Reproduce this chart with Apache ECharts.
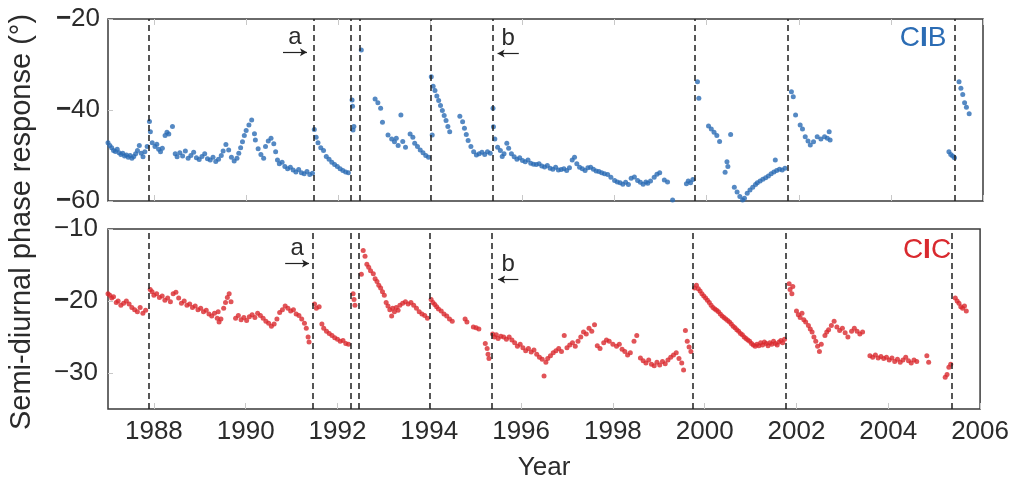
<!DOCTYPE html>
<html><head><meta charset="utf-8">
<script src="https://cdn.jsdelivr.net/npm/echarts@6/dist/echarts.min.js"></script>
<style>html,body{margin:0;padding:0;background:#fff}#c{width:1012px;height:482px}</style>
</head><body><div id="c"></div>
<script>
// ---- data ----
const xTickYears = [1988,1990,1992,1994,1996,1998,2000,2002,2004,2006];
const cibTicks = [-60,-40,-20];
const cicTicks = [-30,-20,-10];
const eventYears = [1987.89,1991.47,1992.28,1992.47,1994.01,1995.35,1999.74,2001.77,2005.38];

const cibPoints = [
[1987.00,-47.2],[1987.04,-47.8],[1987.08,-48.3],[1987.12,-48.9],[1987.16,-49.1],[1987.20,-48.6],[1987.24,-49.4],[1987.28,-49.8],[1987.32,-49.5],[1987.36,-50.1],[1987.40,-49.9],[1987.44,-50.4],[1987.48,-50.0],[1987.52,-50.6],[1987.56,-50.2],[1987.60,-49.6],[1987.64,-48.9],[1987.68,-47.8],[1987.72,-49.5],[1987.76,-50.3],[1987.80,-49.2],[1987.85,-48.0],
[1987.90,-42.5],[1987.92,-44.8],[1987.96,-47.2],[1988.02,-48.0],[1988.06,-47.5],[1988.10,-48.6],[1988.14,-49.2],[1988.18,-48.4],[1988.24,-45.6],[1988.28,-44.9],[1988.32,-45.3],[1988.40,-43.6],[1988.46,-49.6],[1988.50,-50.3],[1988.56,-49.4],[1988.62,-50.1],[1988.68,-49.0],[1988.74,-50.6],[1988.80,-50.0],[1988.86,-49.3],[1988.92,-50.5],[1988.98,-50.9],[1989.04,-50.2],[1989.10,-49.6],[1989.16,-50.7],[1989.22,-51.0],[1989.28,-50.4],[1989.34,-51.3],[1989.40,-50.8],[1989.46,-50.0],
[1989.50,-49.0],[1989.56,-47.6],[1989.62,-48.8],[1989.68,-50.4],[1989.74,-51.2],[1989.80,-50.6],[1989.84,-49.5],[1989.88,-48.3],[1989.92,-47.0],[1989.96,-45.6],[1990.00,-44.5],[1990.06,-43.3],[1990.12,-42.2],[1990.18,-45.2],[1990.20,-46.6],[1990.26,-48.5],[1990.32,-49.8],[1990.38,-50.6],[1990.42,-48.0],[1990.48,-46.8],[1990.54,-46.2],[1990.60,-47.4],[1990.64,-49.2],
[1990.68,-51.0],[1990.72,-51.8],[1990.78,-51.5],[1990.84,-52.4],[1990.90,-52.9],[1990.96,-52.6],[1991.02,-53.2],[1991.08,-53.6],[1991.14,-53.1],[1991.20,-53.8],[1991.26,-54.0],[1991.32,-53.5],[1991.38,-54.2],[1991.44,-53.9],
[1991.48,-44.3],[1991.52,-46.0],[1991.56,-47.2],[1991.62,-48.3],[1991.68,-48.9],[1991.74,-50.2],[1991.80,-50.8],[1991.86,-51.5],[1991.92,-52.0],[1991.98,-52.4],[1992.04,-52.9],[1992.10,-53.3],[1992.16,-53.6],[1992.22,-53.8],
[1992.30,-37.8],[1992.31,-39.2],[1992.32,-44.4],[1992.34,-43.6],
[1992.50,-26.8],
[1992.80,-37.6],[1992.86,-38.4],[1992.92,-39.6],[1992.96,-42.7],[1993.08,-45.5],[1993.16,-46.4],[1993.22,-47.0],[1993.26,-46.2],[1993.30,-47.8],[1993.36,-41.1],[1993.40,-46.9],[1993.46,-48.2],[1993.56,-45.3],[1993.62,-46.0],[1993.66,-47.3],[1993.72,-48.0],[1993.78,-48.8],[1993.84,-49.4],[1993.90,-50.0],[1993.96,-50.4],
[1994.02,-32.7],[1994.04,-45.5],[1994.06,-34.8],[1994.10,-35.7],[1994.14,-36.9],[1994.18,-37.9],[1994.22,-39.0],[1994.26,-40.1],[1994.30,-41.2],[1994.34,-42.3],[1994.38,-43.6],[1994.42,-44.8],
[1994.64,-41.4],[1994.70,-42.6],[1994.74,-44.0],[1994.78,-45.4],[1994.82,-46.7],[1994.88,-48.0],[1994.94,-49.2],[1995.00,-49.9],[1995.06,-49.6],[1995.12,-49.3],[1995.18,-49.8],[1995.24,-49.2],[1995.30,-49.5],
[1995.36,-39.6],[1995.37,-43.7],[1995.40,-46.4],[1995.46,-48.2],[1995.52,-48.9],[1995.56,-50.2],[1995.60,-49.6],[1995.66,-47.3],[1995.70,-48.4],[1995.76,-49.6],[1995.82,-50.3],[1995.88,-50.8],[1995.94,-50.5],[1996.00,-51.1],[1996.06,-51.4],[1996.12,-51.0],[1996.18,-51.7],[1996.24,-51.9],[1996.30,-52.0],[1996.36,-51.8],[1996.42,-52.3],[1996.48,-52.5],[1996.54,-52.2],[1996.60,-52.8],[1996.66,-53.0],[1996.72,-52.6],[1996.78,-53.2],[1996.84,-53.1],[1996.90,-52.9],[1996.96,-53.3],[1997.02,-52.7],[1997.08,-51.0],[1997.13,-50.4],[1997.18,-51.8],[1997.24,-52.6],[1997.30,-52.9],[1997.36,-53.3],[1997.42,-52.7],[1997.48,-52.6],[1997.54,-53.0],[1997.60,-53.4],[1997.66,-53.5],[1997.72,-53.8],[1997.78,-54.0],[1997.85,-54.2],[1997.92,-54.8],[1998.00,-55.5],[1998.06,-55.8],[1998.12,-56.0],[1998.18,-56.3],[1998.24,-55.9],[1998.30,-56.4],[1998.36,-55.0],[1998.43,-54.7],[1998.50,-55.5],[1998.56,-55.9],[1998.62,-56.3],[1998.68,-55.8],[1998.72,-56.1],[1998.78,-55.6],[1998.86,-54.8],[1998.92,-54.1],[1998.98,-53.8],[1999.08,-55.4],[1999.15,-55.8],[1999.26,-59.8],[1999.56,-56.2],[1999.60,-55.6],[1999.65,-56.0],[1999.70,-55.3],
[1999.80,-33.8],[1999.83,-37.4],[2000.04,-43.5],[2000.10,-44.2],[2000.16,-44.9],[2000.22,-45.6],[2000.28,-46.9],[2000.52,-45.4],[2000.40,-53.7],[2000.44,-51.4],[2000.46,-52.4],[2000.60,-57.0],[2000.66,-58.0],[2000.72,-59.0],[2000.78,-59.8],[2000.82,-59.4],[2000.88,-58.3],[2000.94,-57.6],[2001.00,-57.0],[2001.06,-56.4],[2001.10,-56.0],[2001.16,-55.6],[2001.22,-55.2],[2001.28,-54.9],[2001.34,-54.5],[2001.40,-54.0],[2001.46,-53.6],[2001.49,-51.0],[2001.52,-53.3],[2001.58,-53.0],[2001.64,-53.2],[2001.70,-52.8],
[2001.84,-36.0],[2001.88,-37.1],[2001.93,-41.1],[2002.03,-43.3],[2002.08,-44.2],[2002.14,-45.9],[2002.20,-46.8],[2002.25,-47.7],[2002.32,-47.0],[2002.40,-45.9],[2002.48,-46.4],[2002.56,-45.9],[2002.62,-46.2],[2002.66,-44.8],[2002.68,-46.6],
[2005.26,-49.2],[2005.30,-49.8],[2005.34,-50.1],[2005.38,-50.5],[2005.48,-33.8],[2005.52,-35.2],[2005.56,-36.6],[2005.60,-38.4],[2005.64,-39.4],[2005.70,-40.8]
];

const cicPoints = [
[1987.00,-19.0],[1987.04,-19.2],[1987.08,-19.6],[1987.12,-19.4],[1987.18,-20.2],[1987.22,-20.0],[1987.28,-20.6],[1987.34,-20.3],[1987.40,-20.0],[1987.46,-20.4],[1987.52,-20.9],[1987.58,-21.2],[1987.64,-21.5],[1987.70,-20.9],[1987.76,-21.7],[1987.82,-21.3],
[1987.92,-18.4],[1987.96,-18.7],[1988.00,-19.2],[1988.06,-19.0],[1988.12,-19.5],[1988.18,-19.3],[1988.24,-19.9],[1988.30,-19.6],[1988.36,-20.1],[1988.42,-19.0],[1988.48,-18.8],[1988.54,-19.6],[1988.60,-20.3],[1988.66,-20.0],[1988.72,-20.6],[1988.78,-20.4],[1988.84,-20.9],[1988.90,-20.7],[1988.96,-21.2],[1989.02,-21.0],[1989.08,-21.5],[1989.14,-21.3],[1989.20,-21.8],[1989.26,-22.1],[1989.32,-21.7],[1989.38,-22.4],[1989.42,-22.9],[1989.46,-22.5],[1989.40,-21.5],[1989.52,-21.0],[1989.56,-20.2],[1989.60,-19.5],[1989.64,-19.0],[1989.68,-20.1],
[1989.78,-22.4],[1989.84,-22.0],[1989.90,-22.6],[1989.96,-22.3],[1990.02,-22.7],[1990.08,-22.2],[1990.14,-21.9],[1990.20,-22.3],[1990.26,-21.7],[1990.32,-22.0],[1990.38,-22.4],[1990.44,-22.8],[1990.50,-23.1],[1990.56,-23.5],[1990.62,-23.2],[1990.68,-22.5],[1990.74,-21.6],[1990.80,-21.2],[1990.86,-20.7],[1990.92,-21.0],[1990.98,-21.4],[1991.04,-21.2],[1991.10,-21.8],[1991.16,-22.0],[1991.22,-22.5],[1991.28,-23.1],[1991.32,-23.8],[1991.36,-25.0],[1991.38,-25.7],
[1991.50,-20.4],[1991.54,-21.0],[1991.60,-20.8],[1991.66,-23.2],[1991.70,-23.8],[1991.76,-24.2],[1991.82,-24.5],[1991.88,-24.8],[1991.94,-25.1],[1992.00,-25.3],[1992.06,-25.6],[1992.12,-25.5],[1992.18,-25.9],[1992.24,-26.0],
[1992.34,-19.0],[1992.36,-19.8],[1992.38,-20.6],
[1992.52,-16.3],[1992.56,-13.0],[1992.60,-13.8],[1992.64,-14.9],[1992.68,-15.3],[1992.72,-15.8],[1992.78,-16.2],[1992.82,-16.9],[1992.86,-17.3],[1992.90,-17.8],[1992.94,-18.2],[1992.98,-18.7],[1993.02,-19.2],[1993.06,-20.2],[1993.10,-20.7],[1993.14,-21.2],[1993.18,-22.1],[1993.20,-21.0],[1993.24,-21.5],[1993.28,-20.9],[1993.32,-21.3],[1993.36,-20.6],[1993.42,-20.3],[1993.48,-20.1],[1993.54,-20.4],[1993.60,-20.2],[1993.66,-20.6],[1993.72,-21.0],[1993.78,-21.5],[1993.84,-21.8],[1993.90,-22.0],[1993.96,-22.4],
[1994.04,-19.8],[1994.08,-20.2],[1994.12,-20.5],[1994.16,-20.8],[1994.20,-21.1],[1994.26,-21.4],[1994.32,-21.8],[1994.38,-22.1],[1994.44,-22.5],[1994.50,-22.8],[1994.78,-22.5],[1994.82,-22.9],[1994.96,-23.6],[1995.02,-23.7],[1995.08,-23.9],[1995.22,-25.9],[1995.26,-26.6],[1995.28,-27.4],[1995.30,-28.0],
[1995.38,-24.6],[1995.42,-25.0],[1995.46,-24.7],[1995.50,-25.2],[1995.56,-24.9],[1995.62,-25.0],[1995.68,-25.3],[1995.74,-25.0],[1995.80,-25.4],[1995.86,-25.8],[1995.92,-26.3],[1995.98,-26.0],[1996.04,-26.5],[1996.10,-26.9],[1996.16,-26.6],[1996.22,-27.1],[1996.28,-26.8],[1996.34,-27.4],[1996.40,-27.8],[1996.46,-28.1],[1996.50,-30.4],[1996.54,-28.5],[1996.58,-28.0],[1996.64,-27.6],[1996.70,-27.2],[1996.76,-26.9],[1996.82,-26.6],[1996.88,-27.0],[1996.94,-24.8],[1997.00,-26.5],[1997.06,-26.1],[1997.12,-25.8],[1997.18,-26.3],[1997.24,-25.6],[1997.30,-25.0],[1997.36,-24.3],[1997.42,-24.6],[1997.48,-23.8],[1997.54,-24.2],[1997.60,-23.3],[1997.66,-26.2],[1997.72,-26.6],[1997.80,-25.8],[1997.86,-25.4],[1997.92,-25.6],[1998.00,-26.0],[1998.08,-26.3],[1998.14,-26.0],[1998.20,-26.7],[1998.26,-27.0],[1998.32,-27.5],[1998.38,-27.2],[1998.46,-25.6],[1998.52,-24.8],[1998.60,-27.9],[1998.66,-28.3],[1998.72,-28.6],[1998.78,-28.2],[1998.84,-28.8],[1998.90,-29.0],[1998.96,-28.5],[1999.02,-28.9],[1999.08,-28.4],[1999.14,-28.7],[1999.20,-28.2],[1999.26,-27.8],[1999.32,-27.5],[1999.38,-27.2],[1999.44,-28.0],[1999.50,-28.6],[1999.54,-29.6],[1999.58,-24.1],[1999.62,-25.6],[1999.66,-26.4],[1999.70,-27.0],
[1999.78,-18.2],[1999.82,-17.8],[1999.86,-18.3],[1999.90,-18.6],[1999.94,-19.0],[1999.98,-19.3],[2000.02,-19.6],[2000.06,-19.9],[2000.10,-20.2],[2000.14,-20.6],[2000.18,-20.9],[2000.22,-21.1],[2000.26,-21.3],[2000.30,-21.5],[2000.34,-21.8],[2000.38,-22.1],[2000.42,-22.3],[2000.46,-22.5],[2000.50,-22.7],[2000.54,-22.9],[2000.58,-23.2],[2000.62,-23.5],[2000.66,-23.7],[2000.70,-24.0],[2000.74,-24.2],[2000.78,-24.5],[2000.82,-24.7],[2000.86,-25.0],[2000.90,-25.2],[2000.94,-25.4],[2000.98,-25.6],[2001.02,-25.9],[2001.06,-26.1],[2001.10,-26.3],[2001.14,-26.0],[2001.18,-26.2],[2001.22,-25.8],[2001.26,-26.1],[2001.30,-25.7],[2001.34,-25.9],[2001.38,-26.2],[2001.42,-25.8],[2001.46,-26.0],[2001.50,-25.6],[2001.54,-25.9],[2001.58,-26.1],[2001.62,-25.7],[2001.66,-25.5],[2001.70,-25.8],[2001.74,-25.3],
[2001.84,-17.6],[2001.86,-18.4],[2001.90,-19.0],[2001.92,-18.0],[2002.00,-21.4],[2002.04,-21.9],[2002.08,-22.3],[2002.12,-21.7],[2002.16,-22.6],[2002.20,-22.9],[2002.26,-23.4],[2002.30,-23.9],[2002.34,-24.3],[2002.38,-25.0],[2002.42,-25.6],[2002.46,-26.3],[2002.50,-27.0],[2002.54,-26.0],[2002.62,-24.8],[2002.66,-24.3],[2002.70,-24.0],[2002.76,-23.4],[2002.82,-22.8],[2002.88,-23.6],[2002.94,-24.1],[2003.00,-23.8],[2003.06,-24.4],[2003.12,-25.0],[2003.20,-24.2],[2003.26,-23.8],[2003.32,-24.2],[2003.38,-24.6],[2003.44,-24.3],
[2003.60,-27.6],[2003.66,-27.8],[2003.72,-27.5],[2003.78,-27.9],[2003.84,-27.7],[2003.90,-28.0],[2003.96,-27.8],[2004.02,-28.2],[2004.08,-27.9],[2004.14,-28.4],[2004.20,-28.1],[2004.26,-28.5],[2004.32,-28.2],[2004.38,-27.8],[2004.44,-28.3],[2004.50,-28.6],[2004.56,-28.2],[2004.62,-28.4],[2004.84,-27.6],[2004.88,-28.5],[2005.24,-30.6],[2005.28,-30.2],[2005.32,-29.2],[2005.36,-28.8],
[2005.46,-19.6],[2005.50,-20.0],[2005.54,-20.3],[2005.58,-20.8],[2005.62,-21.0],[2005.66,-20.7],[2005.70,-21.4]
];

// annotation arrows: [label, startYear, endYear, value, direction]
const cibArrows = [['a',1990.80,1991.32,-27.3,'right'],['b',1995.46,1995.92,-27.6,'left']];
const cicArrows = [['a',1990.86,1991.38,-14.8,'right'],['b',1995.50,1995.94,-17.0,'left']];

// ---- chart ----
const FONT = '"Liberation Sans", Arial, Helvetica, sans-serif';
const TXT = '#2b2b2b';
const BLUE = '#2b6cb4';
const RED = '#d9292e';

function eventLines(arrows){
  const items = eventYears.map(y => ({xAxis: y, symbol:'none', label:{show:false},
    lineStyle:{type:[6,4], color:'#1f1f1f', width:1.5}}));
  arrows.forEach(a => {
    items.push([
      {coord:[a[1],a[3]], symbol: a[4]==='left'?'arrow':'none', symbolSize:[6,7],
       lineStyle:{type:'solid', color:'#222', width:1.2},
       label:{show:true, formatter:a[0], position:'insideMiddleTop', distance:3,
              fontSize:24, fontFamily:FONT, color:TXT}},
      {coord:[a[2],a[3]], symbol: a[4]==='right'?'arrow':'none', symbolSize:[6,7]}
    ]);
  });
  return {silent:true, animation:false, symbol:['none','none'], data: items};
}

function xAxisBase(gi, showLabels){
  return {
    type:'value', gridIndex:gi, min:1987, max:2006,
    axisLine:{show:false}, splitLine:{show:false},
    axisTick:{show:true, inside:true, length:6, customValues:xTickYears, lineStyle:{color:'#c8c8c8', width:1}},
    axisLabel:{show:showLabels, customValues:xTickYears, fontSize:26, fontFamily:FONT, color:TXT, margin:10,
               formatter: v => String(v)}
  };
}

const boldDash = v => '{d|\u2212}{n|' + Math.abs(v) + '}';
const thinDash = v => '{n|\u2212' + Math.abs(v) + '}';
const richY = {
  d:{fontSize:26, fontFamily:FONT, color:TXT, fontWeight:'bold'},
  n:{fontSize:26, fontFamily:FONT, color:TXT}
};

function tagText(x, y, a, b, col){
  return {type:'text', x:x, y:y, style:{
    text:'{c|' + a + '}{i|I}{c|' + b + '}',
    rich:{c:{fontSize:28, fontFamily:FONT, fill:col}, i:{fontSize:28, fontFamily:FONT, fontWeight:'bold', fill:col}},
    align:'center', verticalAlign:'middle'}};
}

const chart = echarts.init(document.getElementById('c'), null, {renderer:'canvas'});
chart.setOption({
  animation:false,
  backgroundColor:'#fff',
  grid:[
    {left:108, top:19, width:875, height:182, show:true, borderColor:'#3a3a3a', borderWidth:1.5, backgroundColor:'transparent'},
    {left:108, top:229, width:875, height:181, show:true, borderColor:'#3a3a3a', borderWidth:1.5, backgroundColor:'transparent'}
  ],
  xAxis:[
    xAxisBase(0,false),
    Object.assign(xAxisBase(1,true), {name:'Year', nameLocation:'middle', nameGap:46,
      nameTextStyle:{fontSize:26, fontFamily:FONT, color:TXT}}),
    Object.assign(xAxisBase(0,false), {position:'top'})
  ],
  yAxis:[
    {type:'value', gridIndex:0, min:-60, max:-20, interval:20,
     axisLine:{show:false}, splitLine:{show:false},
     axisTick:{show:true, inside:true, length:5, lineStyle:{color:'#c8c8c8'}},
     axisLabel:{fontSize:26, fontFamily:FONT, color:TXT, margin:8, formatter:boldDash, rich:richY}},
    {type:'value', gridIndex:1, min:-35, max:-10,
     axisLine:{show:false}, splitLine:{show:false},
     axisTick:{show:true, inside:true, length:5, customValues:cicTicks, lineStyle:{color:'#c8c8c8'}},
     axisLabel:{customValues:cicTicks, fontSize:26, fontFamily:FONT, color:TXT, margin:10,
                formatter: v => v === -20 ? boldDash(v) : thinDash(v), rich:richY}}
  ],
  graphic:[
    {type:'text', x:22, y:222, rotation:Math.PI/2,
     style:{text:'Semi-diurnal phase response (\u00b0)', font:'29px ' + FONT, fill:TXT,
            align:'center', verticalAlign:'middle'}},
    tagText(923, 38, 'C', 'B', BLUE),
    tagText(927, 250, 'C', 'C', RED)
  ],
  series:[
    {name:'CIB', type:'scatter', xAxisIndex:0, yAxisIndex:0, data:cibPoints,
     symbolSize:5, itemStyle:{color:BLUE}, markLine:eventLines(cibArrows), clip:false},
    {name:'CIC', type:'scatter', xAxisIndex:1, yAxisIndex:1, data:cicPoints,
     symbolSize:5, itemStyle:{color:RED}, markLine:eventLines(cicArrows), clip:false}
  ]
});
</script>
</body></html>
